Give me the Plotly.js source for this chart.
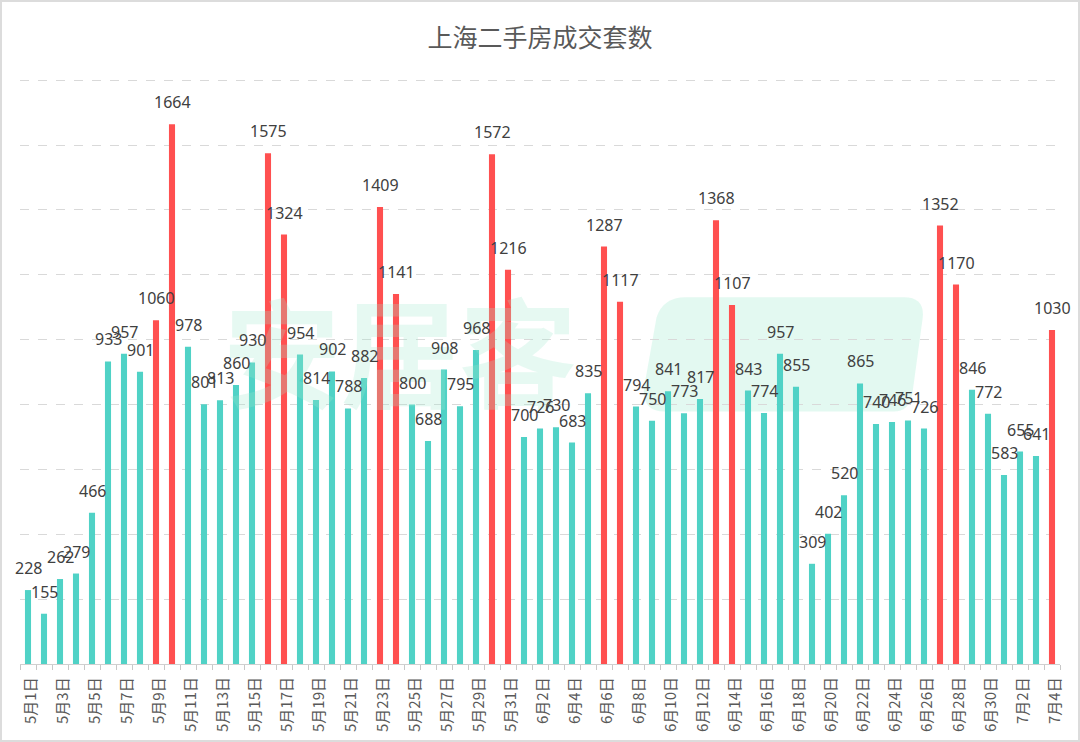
<!DOCTYPE html>
<html>
<head>
<meta charset="utf-8">
<script src="https://cdn.plot.ly/plotly-3.0.1.min.js"></script>
<style>
  html, body { margin: 0; padding: 0; background: #fff; }
  #wrap { position: relative; width: 1080px; height: 742px; }
  #chart { position: absolute; left: 0; top: 0; width: 1080px; height: 742px; }
  #frame { position: absolute; left: 0; top: 0; width: 1080px; height: 742px; box-sizing: border-box; border: 2px solid #dcdcdc; pointer-events: none; }
</style>
</head>
<body>
<div id="wrap"><div id="chart"></div><div id="frame"></div></div>
<script>
// ---- data ----
const chartTitle = '上海二手房成交套数';
const dates = [
  '5月1日','5月2日','5月3日','5月4日','5月5日','5月6日','5月7日','5月8日','5月9日','5月10日',
  '5月11日','5月12日','5月13日','5月14日','5月15日','5月16日','5月17日','5月18日','5月19日','5月20日',
  '5月21日','5月22日','5月23日','5月24日','5月25日','5月26日','5月27日','5月28日','5月29日','5月30日','5月31日',
  '6月1日','6月2日','6月3日','6月4日','6月5日','6月6日','6月7日','6月8日','6月9日','6月10日',
  '6月11日','6月12日','6月13日','6月14日','6月15日','6月16日','6月17日','6月18日','6月19日','6月20日',
  '6月21日','6月22日','6月23日','6月24日','6月25日','6月26日','6月27日','6月28日','6月29日','6月30日',
  '7月1日','7月2日','7月3日','7月4日'
];
const deals = [
  228,155,262,279,466,933,957,901,1060,1664,
  978,801,813,860,930,1575,1324,954,814,902,
  788,882,1409,1141,800,688,908,795,968,1572,1216,
  700,726,730,683,835,1287,1117,794,750,841,
  773,817,1368,1107,843,774,957,855,309,402,
  520,865,740,746,751,726,1352,1170,846,772,
  583,655,641,1030
];
// highlighted (red) days
const highlightDays = ['5月9日','5月10日','5月16日','5月17日','5月23日','5月24日','5月30日','5月31日',
  '6月6日','6月7日','6月13日','6月14日','6月27日','6月28日','7月4日'];
const yTicks = [0,200,400,600,800,1000,1200,1400,1600,1800];

// ---- styles ----
const TEAL = '#50d2c6';
const RED = '#ff5050';
const colors = dates.map(d => highlightDays.includes(d) ? RED : TEAL);
const FONT = 'Noto Sans, "Noto Sans CJK SC", sans-serif';
const CJK = '"Noto Sans CJK SC", sans-serif';

const trace = {
  type: 'bar',
  x: dates,
  y: deals,
  marker: { color: colors, line: { width: 0 } },
  hoverinfo: 'x+y'
};

// value labels above bars
const annotations = dates.map((d, i) => ({
  x: d, y: deals[i], xref: 'x', yref: 'y',
  text: String(deals[i]),
  showarrow: false, yanchor: 'bottom', xanchor: 'center', yshift: 9,
  font: { family: FONT, size: 16, color: '#404040' }
}));

// category labels (every other day), rotated
dates.forEach((d, i) => {
  if (i % 2 !== 0) return;
  annotations.push({
    x: d, y: 0, xref: 'x', yref: 'paper',
    text: d, textangle: -90, showarrow: false,
    xanchor: 'center', yanchor: 'top', yshift: -11, xshift: 1.5,
    font: { family: CJK, size: 15, color: '#595959' }
  });
});

// faint watermark
annotations.unshift({
  xref: 'paper', yref: 'paper', x: 0.365, y: 0.54, xanchor: 'center', yanchor: 'middle',
  text: '<b>安居客</b>', showarrow: false,
  font: { family: CJK, size: 118, color: 'rgba(160,232,206,0.26)' }
});

const layout = {
  width: 1080, height: 742,
  margin: { l: 20, r: 20, t: 77, b: 78 },
  paper_bgcolor: '#ffffff', plot_bgcolor: '#ffffff',
  title: {
    text: chartTitle, x: 0.5, xanchor: 'center', y: 1 - 38/742, yref: 'container', yanchor: 'middle',
    font: { family: CJK, size: 25, color: '#595959' }
  },
  bargap: 0.62,
  showlegend: false,
  xaxis: {
    type: 'category', range: [-0.5, dates.length - 0.5], autorange: false,
    tickmode: 'array', tickvals: dates, showticklabels: false, tickson: 'boundaries',
    ticks: 'outside', ticklen: 5, tickcolor: '#c8c8c8', tickwidth: 1,
    showline: true, linecolor: '#d0d0d0', linewidth: 1,
    showgrid: false, zeroline: false
  },
  yaxis: {
    range: [0, 1810], autorange: false, tickmode: 'array', tickvals: yTicks,
    showticklabels: false, ticks: '',
    showgrid: true, gridcolor: '#d9d9d9', griddash: 'dash', gridwidth: 1,
    zeroline: false, showline: false
  },
  shapes: [{
    type: 'path', xref: 'paper', yref: 'paper', layer: 'below',
    path: 'M 0.62 0.43 L 0.84 0.43 Q 0.855 0.43 0.858 0.46 L 0.868 0.59 Q 0.87 0.625 0.85 0.625 L 0.64 0.625 Q 0.618 0.625 0.612 0.59 L 0.6 0.47 Q 0.598 0.43 0.62 0.43 Z',
    fillcolor: 'rgba(170,236,212,0.33)', line: { width: 0 }
  }],
  annotations: annotations
};

Plotly.newPlot('chart', [trace], layout, { displayModeBar: false, staticPlot: true });
</script>
</body>
</html>
